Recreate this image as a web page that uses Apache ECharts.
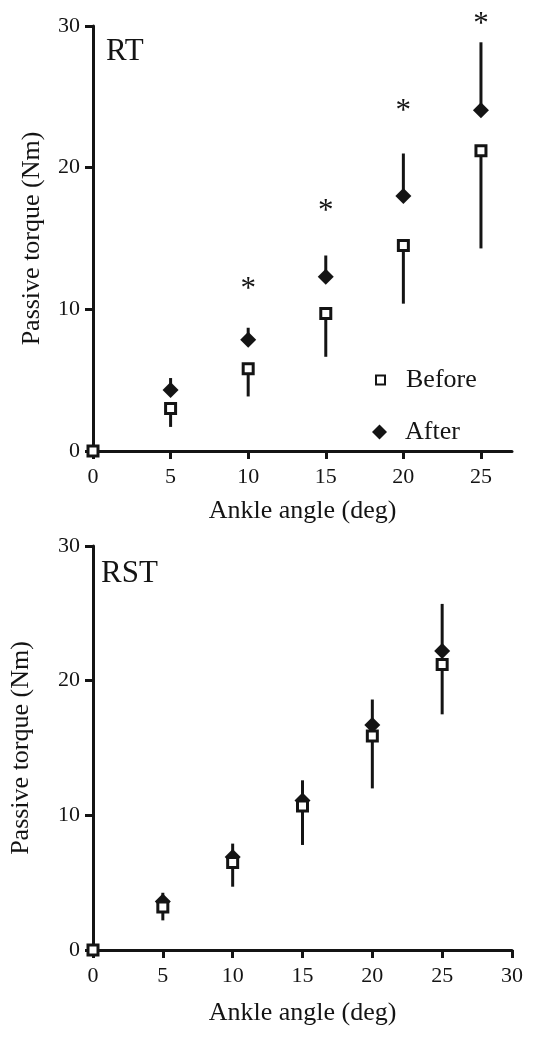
<!DOCTYPE html>
<html>
<head>
<meta charset="utf-8">
<script src="https://cdn.jsdelivr.net/npm/echarts@6/dist/echarts.min.js"></script>
<style>
html, body { margin: 0; padding: 0; background: #fff; }
#chart { width: 533px; height: 1050px; }
</style>
</head>
<body>
<div id="chart"></div>
<script>
// ankle angles (deg)
const angles = [0, 5, 10, 15, 20, 25];
const xTicksRT = [0, 5, 10, 15, 20, 25];
const xTicksRST = [0, 5, 10, 15, 20, 25, 30];
const yTicks = [0, 10, 20, 30];

// RT panel, passive torque (Nm) mean and SD
const rtBefore = [0, 3.0, 5.8, 9.7, 14.5, 21.2];
const rtBeforeSD = [0, 1.3, 1.95, 3.05, 4.1, 6.9];
const rtAfter = [null, 4.3, 7.85, 12.3, 18.0, 24.05];
const rtAfterSD = [null, 0.85, 0.85, 1.5, 3.0, 4.8];
// significance stars
const rtStarAngles = [10, 15, 20, 25];
const rtStarY = [11.9, 17.4, 24.4, 30.6];

// RST panel
const rstBefore = [0, 3.2, 6.5, 10.7, 15.9, 21.2];
const rstBeforeSD = [0, 1.0, 1.8, 2.9, 3.9, 3.7];
const rstAfter = [null, 3.6, 6.9, 11.1, 16.7, 22.2];
const rstAfterSD = [null, 0.65, 1.0, 1.5, 1.9, 3.5];

const FONT = 'Liberation Serif';
const INK = '#141414';

const chart = echarts.init(document.getElementById('chart'));

function pts(vals) {
  const out = [];
  angles.forEach((a, i) => { if (vals[i] != null) out.push([a, vals[i]]); });
  return out;
}
// before bars go down, after bars go up
function bars(vals, sd, dir) {
  const out = [];
  angles.forEach((a, i) => {
    if (vals[i] == null || !sd[i]) return;
    out.push(dir < 0 ? [a, vals[i] - sd[i], vals[i]] : [a, vals[i], vals[i] + sd[i]]);
  });
  return out;
}
function renderBar(params, api) {
  const p1 = api.coord([api.value(0), api.value(1)]);
  const p2 = api.coord([api.value(0), api.value(2)]);
  return {
    type: 'line',
    shape: { x1: p1[0], y1: p1[1], x2: p2[0], y2: p2[1] },
    style: { stroke: INK, lineWidth: 3 }
  };
}

function xAxis(idx, max, ticks, gap) {
  return {
    type: 'value', gridIndex: idx, min: 0, max: max, interval: 5,
    name: 'Ankle angle (deg)', nameLocation: 'middle', nameGap: gap,
    nameTextStyle: { fontFamily: FONT, fontSize: 26, color: INK },
    axisLine: { onZero: false, lineStyle: { color: INK, width: 3 } },
    axisTick: { length: 8, lineStyle: { width: 3 }, customValues: ticks },
    axisLabel: { customValues: ticks, fontFamily: FONT, fontSize: 22, color: INK, margin: 15 },
    splitLine: { show: false }
  };
}
function yAxis(idx, gap) {
  return {
    type: 'value', gridIndex: idx, min: 0, max: 30, interval: 10,
    name: 'Passive torque (Nm)', nameLocation: 'middle', nameGap: gap,
    nameTextStyle: { fontFamily: FONT, fontSize: 26, color: INK },
    axisLine: { onZero: false, lineStyle: { color: INK, width: 3 } },
    axisTick: { length: 8, lineStyle: { width: 3 }, customValues: yTicks },
    axisLabel: { customValues: yTicks, fontFamily: FONT, fontSize: 22, color: INK, margin: 13 },
    splitLine: { show: false }
  };
}

function panel(idx, before, beforeSD, after, afterSD) {
  return [
    { type: 'custom', xAxisIndex: idx, yAxisIndex: idx, renderItem: renderBar,
      data: bars(before, beforeSD, -1), encode: { x: 0, y: [1, 2] }, z: 2, silent: true },
    { type: 'custom', xAxisIndex: idx, yAxisIndex: idx, renderItem: renderBar,
      data: bars(after, afterSD, 1), encode: { x: 0, y: [1, 2] }, z: 2, silent: true },
    { name: 'After', type: 'scatter', xAxisIndex: idx, yAxisIndex: idx, data: pts(after),
      symbol: 'diamond', symbolSize: 16, itemStyle: { color: INK, opacity: 1 }, z: 3, clip: false },
    { name: 'Before', type: 'scatter', xAxisIndex: idx, yAxisIndex: idx, data: pts(before),
      symbol: 'rect', symbolSize: 10,
      itemStyle: { color: '#fff', borderColor: INK, borderWidth: 3, opacity: 1 }, z: 4, clip: false }
  ];
}

const series = panel(0, rtBefore, rtBeforeSD, rtAfter, rtAfterSD)
  .concat(panel(1, rstBefore, rstBeforeSD, rstAfter, rstAfterSD));
series.push({
  type: 'scatter', xAxisIndex: 0, yAxisIndex: 0, clip: false, silent: true,
  data: rtStarAngles.map((a, i) => [a, rtStarY[i]]),
  symbolSize: 1, itemStyle: { color: 'rgba(0,0,0,0)', opacity: 1 },
  label: { show: true, position: 'inside', formatter: '*', fontFamily: FONT,
    fontSize: 31, color: INK, offset: [0, 7] }
});

const legendText = { fontFamily: FONT, fontSize: 26, color: INK, lineHeight: 26 };

chart.setOption({
  animation: false,
  backgroundColor: '#fff',
  textStyle: { fontFamily: FONT },
  title: [
    { text: 'RT', left: 106, top: 36, padding: 0,
      textStyle: { fontFamily: FONT, fontSize: 31, fontWeight: 'normal', color: INK } },
    { text: 'RST', left: 101, top: 558, padding: 0,
      textStyle: { fontFamily: FONT, fontSize: 31, fontWeight: 'normal', color: INK } }
  ],
  legend: [
    { data: ['Before'], orient: 'vertical', left: 375, top: 367, padding: 0,
      itemWidth: 9, itemHeight: 9, selectedMode: false,
      itemStyle: { opacity: 1 },
      textStyle: Object.assign({ padding: [0, 0, 0, 16] }, legendText) },
    { data: ['After'], orient: 'vertical', left: 372, top: 419, padding: 0,
      itemWidth: 15, itemHeight: 15, selectedMode: false,
      itemStyle: { opacity: 1 },
      textStyle: Object.assign({ padding: [0, 0, 0, 13] }, legendText) }
  ],
  grid: [
    { left: 93, top: 26, width: 419, height: 425 },
    { left: 93, top: 546, width: 419, height: 404 }
  ],
  xAxis: [xAxis(0, 27, xTicksRT, 47), xAxis(1, 30, xTicksRST, 50)],
  yAxis: [yAxis(0, 48), yAxis(1, 59)],
  series: series
});
</script>
</body>
</html>
